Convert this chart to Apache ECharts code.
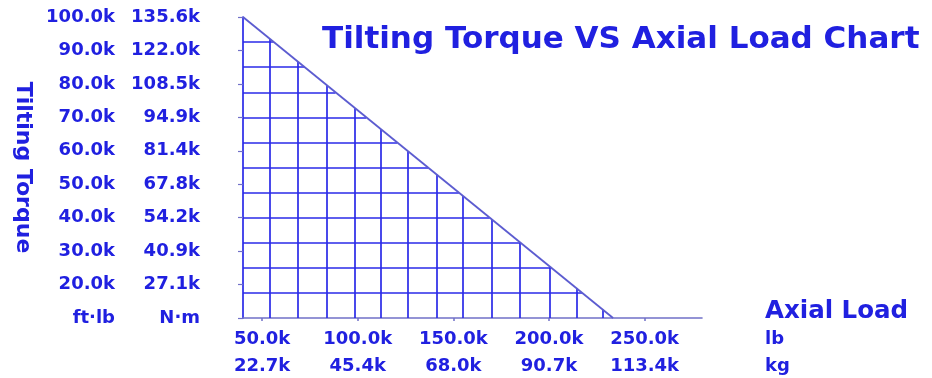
<!DOCTYPE html>
<html>
<head>
<meta charset="utf-8">
<script src="https://cdn.jsdelivr.net/npm/echarts@6/dist/echarts.min.js"></script>
<style>
  html, body { margin: 0; padding: 0; background: #ffffff; }
  #chart { width: 932px; height: 378px; }
</style>
</head>
<body>
<div id="chart"></div>
<script>
// Permitted-load boundary: axial load (lb) against tilting torque (ft·lb)
const limitLoadLb = [40000, 233500];
const limitTorqueFtLb = [100000, 10000];

// Reference grid drawn inside the permitted zone
const gridLoadLb = [54100, 68800, 83900, 98600, 112200, 126300, 141400, 155000, 170200, 184800, 200500, 214600, 228200];
const gridTorqueFtLb = [17500, 25000, 32500, 40000, 47500, 55000, 62500, 70000, 77500, 85000, 92500];

// Axial load ticks, shown in lb and kg
const loadTicksLb = [50000, 100000, 150000, 200000, 250000];
const loadLabelsLb = ['50.0k', '100.0k', '150.0k', '200.0k', '250.0k'];
const loadLabelsKg = ['22.7k', '45.4k', '68.0k', '90.7k', '113.4k'];

// Tilting torque ticks, shown in ft·lb and N·m (bottom row carries the units)
const torqueTicksFtLb = [10000, 20000, 30000, 40000, 50000, 60000, 70000, 80000, 90000, 100000];
const torqueLabelsFtLb = ['ft·lb', '20.0k', '30.0k', '40.0k', '50.0k', '60.0k', '70.0k', '80.0k', '90.0k', '100.0k'];
const torqueLabelsNm = ['N·m', '27.1k', '40.9k', '54.2k', '67.8k', '81.4k', '94.9k', '108.5k', '122.0k', '135.6k'];

const TEXT = '#2020e0';
const GRID_LINE = '#2a2ae8';
const LIMIT_LINE = '#5c5cd0';
const AXIS_GREY = '#7070c8';
const FONT = 'DejaVu Sans';

// Position on the boundary line for a given load / torque
function torqueOnLimit(load) {
  const [x0, x1] = limitLoadLb, [y0, y1] = limitTorqueFtLb;
  return y0 + (load - x0) * (y1 - y0) / (x1 - x0);
}
function loadOnLimit(torque) {
  const [x0, x1] = limitLoadLb, [y0, y1] = limitTorqueFtLb;
  return x0 + (torque - y0) * (x1 - x0) / (y1 - y0);
}

const gridSegments = [];
gridLoadLb.forEach(x => {
  gridSegments.push({ coords: [[x, torqueTicksFtLb[0]], [x, torqueOnLimit(x)]] });
});
gridTorqueFtLb.forEach(y => {
  gridSegments.push({ coords: [[limitLoadLb[0], y], [loadOnLimit(y), y]] });
});

const chart = echarts.init(document.getElementById('chart'), null, { renderer: 'canvas' });

chart.setOption({
  backgroundColor: '#ffffff',
  animation: false,
  textStyle: { fontFamily: FONT },
  title: {
    text: 'Tilting Torque VS Axial Load Chart',
    left: 317,
    top: 19,
    textStyle: { color: TEXT, fontSize: 31, fontWeight: 'bold', fontFamily: FONT, lineHeight: 32 }
  },
  grid: { left: 243, top: 17, right: 230, bottom: 60, containLabel: false, outerBoundsMode: 'none' },
  xAxis: {
    type: 'value',
    min: limitLoadLb[0],
    max: 280000,
    name: '{t|Axial Load}\n{u|lb}\n{u|kg}',
    nameLocation: 'end',
    nameGap: 63,
    nameTextStyle: {
      padding: [42, 0, 0, 0],
      align: 'left',
      rich: {
        t: { color: TEXT, fontSize: 24.5, fontWeight: 'bold', fontFamily: FONT, lineHeight: 27 },
        u: { color: TEXT, fontSize: 18, fontWeight: 'bold', fontFamily: FONT, lineHeight: 27 }
      }
    },
    axisLine: { show: true, lineStyle: { color: AXIS_GREY, width: 1.6 } },
    axisTick: { show: true, customValues: loadTicksLb, length: 3, lineStyle: { color: AXIS_GREY, width: 1.5 } },
    axisLabel: {
      customValues: loadTicksLb,
      margin: 8,
      color: TEXT,
      fontSize: 18,
      fontWeight: 'bold',
      fontFamily: FONT,
      lineHeight: 27,
      formatter: v => {
        const i = loadTicksLb.indexOf(v);
        return i < 0 ? '' : loadLabelsLb[i] + '\n' + loadLabelsKg[i];
      }
    },
    splitLine: { show: false }
  },
  yAxis: {
    type: 'value',
    min: torqueTicksFtLb[0],
    max: torqueTicksFtLb[torqueTicksFtLb.length - 1],
    interval: 10000,
    name: 'Tilting Torque',
    nameLocation: 'middle',
    nameRotate: -90,
    nameGap: 209,
    nameTextStyle: { color: TEXT, fontSize: 22, fontWeight: 'bold', fontFamily: FONT },
    axisLine: { show: true, lineStyle: { color: GRID_LINE, width: 1.7 } },
    axisTick: { show: true, length: 5, lineStyle: { color: AXIS_GREY, width: 1.2 } },
    axisLabel: {
      margin: 43,
      formatter: v => {
        const i = torqueTicksFtLb.indexOf(v);
        if (i < 0) return '';
        return '{a|' + torqueLabelsFtLb[i] + '}{g|}{b|' + torqueLabelsNm[i] + '}';
      },
      rich: {
        a: { width: 80, align: 'right', color: TEXT, fontSize: 18, fontWeight: 'bold', fontFamily: FONT },
        g: { width: 15 },
        b: { width: 70, align: 'right', color: TEXT, fontSize: 18, fontWeight: 'bold', fontFamily: FONT }
      }
    },
    splitLine: { show: false }
  },
  series: [
    {
      name: 'grid',
      type: 'lines',
      coordinateSystem: 'cartesian2d',
      polyline: false,
      silent: true,
      lineStyle: { color: GRID_LINE, width: 1.7, opacity: 1 },
      data: gridSegments,
      z: 2
    },
    {
      name: 'limit',
      type: 'line',
      symbol: 'none',
      silent: true,
      lineStyle: { color: LIMIT_LINE, width: 1.8 },
      data: limitLoadLb.map((x, i) => [x, limitTorqueFtLb[i]]),
      z: 3
    }
  ]
});
</script>
</body>
</html>
